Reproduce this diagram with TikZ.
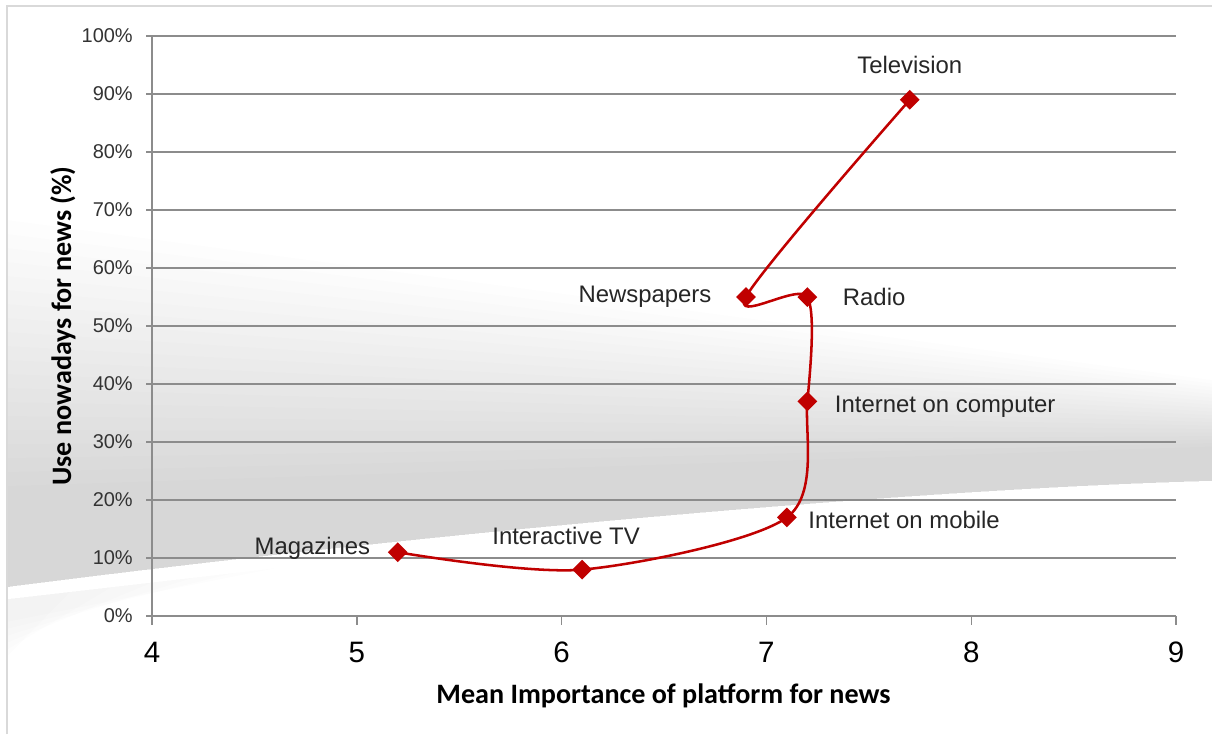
\documentclass[tikz,border=0pt]{standalone}
\usepackage{fontspec}
\setmainfont{Liberation Sans}
\newfontfamily\calibrifont{Carlito}
\usepackage{tikz}
\usetikzlibrary{shapes.geometric}
\definecolor{chartred}{HTML}{C00000}
\definecolor{gridgray}{HTML}{8C8C8C}
\definecolor{framegray}{HTML}{D9D9D9}

\begin{document}
\begin{tikzpicture}[x=5.12cm, y=0.145cm,
    pt/.style={diamond, fill=chartred, inner sep=0pt, minimum size=0.5cm},
    lbl/.style={inner sep=0pt, text=black!85, font=\fontsize{17}{20}\selectfont},
    ytick/.style={anchor=east, inner sep=0pt, text=black!80, font=\fontsize{14.2}{16}\selectfont},
    xtick/.style={inner sep=0pt, font=\fontsize{21}{24}\selectfont},
    axtitle/.style={inner sep=0pt, font=\calibrifont\bfseries\fontsize{20}{24}\selectfont},
    gridline/.style={gridgray, line width=1pt},
    band/.style={black, fill opacity=0.0085}]
    \useasboundingbox (3.2578,-20.345) rectangle (9.1758,106.21);
    % background band and frame
    \foreach \k in {0,...,19}
      \fill[band] (3.292,{(396-14*\k)/5.8}) -- (9.1758,{(236-3.5*\k)/5.8}) -- (9.1758,23.3)
        .. controls (7.8,22) and (5.5,15) .. (3.292,5.0) -- cycle;
    \foreach \k in {0,...,5}
      \fill[band] (3.292,2.9) -- ({4.6-0.2*\k},{2.9+4.1*(1.3-0.2*\k)})
        -- (3.292,{-1-1.2*\k}) -- cycle;
    \draw[framegray, line width=1.5pt] (3.292,-20.345) -- (3.292,105.17) -- (9.1758,105.17);
    % axes and grid
    \foreach \p in {0,10,...,100} {
      \draw[gridline] (3.9707,\p) -- (9,\p);
      \node[ytick] (y\p) at (3.9072,\p) {\p\%};
    }
    \draw[gridline] (4,100) -- (4,-1.55);
    \foreach \x in {5,...,9}
      \draw[gridline] (\x,0) -- (\x,-1.55);
    \foreach \x in {4,...,9}
      \node[xtick] (x\x) at (\x,-6.2) {\x};
    \node[axtitle] (xtitle) at (6.4976,-13.79) {Mean Importance of platform for news};
    \node[axtitle, rotate=90] (ytitle) at (3.5654,50) {Use nowadays for news (\%)};
    % platforms
    \node[pt, label={[lbl, label distance=0.425cm, yshift=0.1cm]left:Magazines}] (mag) at (5.2,11) {};
    \node[pt, label={[lbl, label distance=0.36cm, xshift=-0.4cm]above:Interactive TV}] (itv) at (6.1,8) {};
    \node[pt, label={[lbl, label distance=0.275cm, yshift=-0.075cm]right:Internet on mobile}] (mob) at (7.1,17) {};
    \node[pt, label={[lbl, label distance=0.425cm, yshift=-0.125cm]right:Internet on computer}] (comp) at (7.2,37) {};
    \node[pt, label={[lbl, label distance=0.625cm]right:Radio}] (radio) at (7.2,55) {};
    \node[pt, label={[lbl, label distance=0.6cm]left:Newspapers}] (paper) at (6.9,55) {};
    \node[pt, label={[lbl, label distance=0.39cm]above:Television}] (tv) at (7.7,89) {};
    \draw[chartred, line width=1.8pt] plot[smooth, tension=0.5]
      coordinates {(mag) (itv) (mob) (comp) (radio) (paper) (tv)};
\end{tikzpicture}
\end{document}
